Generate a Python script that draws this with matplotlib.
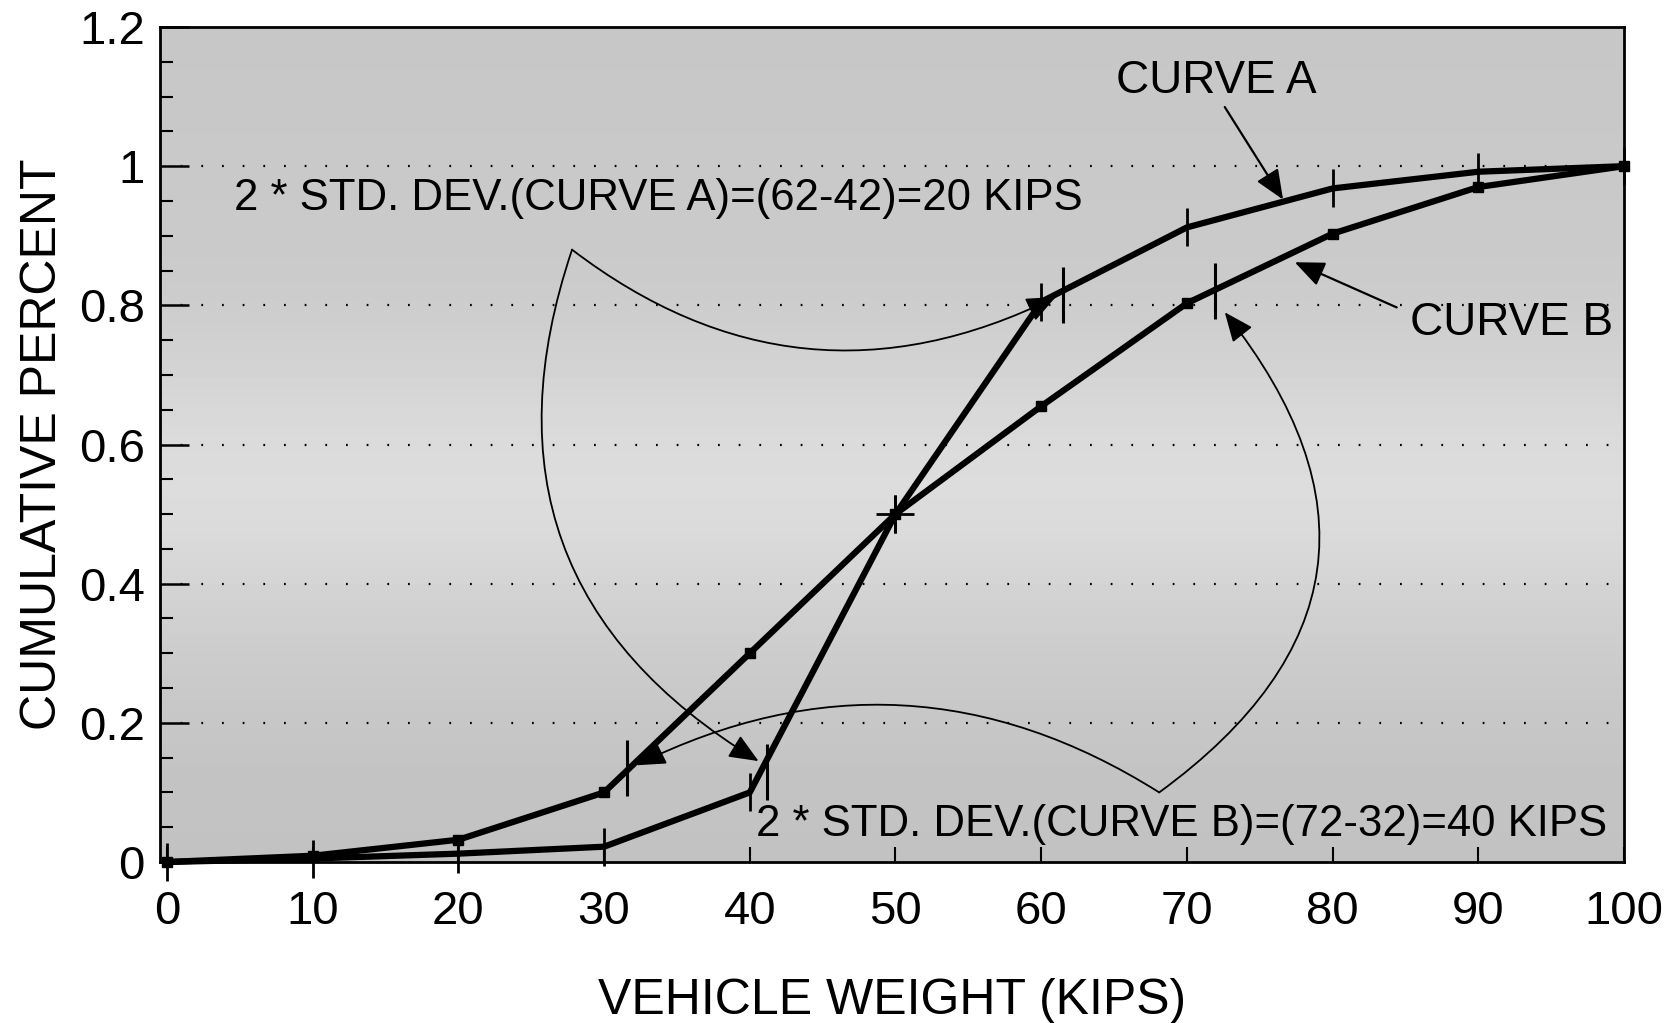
import numpy as np
import matplotlib
matplotlib.use("Agg")
import matplotlib.pyplot as plt
from matplotlib.patches import FancyArrowPatch

plt.rcParams['font.family'] = ['Liberation Sans', 'DejaVu Sans']

# ---- data ----
weight = [0, 10, 20, 30, 40, 50, 60, 70, 80, 90, 100]
curve_a = [0.0, 0.005, 0.012, 0.022, 0.10, 0.50, 0.805, 0.912, 0.968, 0.992, 1.0]
curve_b = [0.0, 0.009, 0.032, 0.10, 0.30, 0.50, 0.655, 0.803, 0.903, 0.970, 1.0]
std_a_x = [41.2, 61.5]
std_a_y = [0.13, 0.815]
std_b_x = [31.6, 71.9]
std_b_y = [0.135, 0.82]
median_pt = (50, 0.5)
x_ticks = [0, 10, 20, 30, 40, 50, 60, 70, 80, 90, 100]
y_ticks = [0, 0.2, 0.4, 0.6, 0.8, 1.0, 1.2]
y_ticklabels = ["0", "0.2", "0.4", "0.6", "0.8", "1", "1.2"]
grid_levels = [0.2, 0.4, 0.6, 0.8, 1.0]

# annotation arcs (start, end, rad)
arcs = [
    ((27.8, 0.88), (61.0, 0.812), 0.31),
    ((27.8, 0.88), (40.6, 0.145), 0.40),
    ((68.1, 0.10), (72.6, 0.79), 0.52),
    ((68.1, 0.10), (32.2, 0.139), 0.28),
]
label_a_xy = (72.0, 1.123)
label_b_xy = (92.3, 0.774)
arrow_a = ((72.6, 1.085), (76.6, 0.952))
arrow_b = ((84.4, 0.797), (77.4, 0.862))
txt_a = "2 * STD. DEV.(CURVE A)=(62-42)=20 KIPS"
txt_b = "2 * STD. DEV.(CURVE B)=(72-32)=40 KIPS"
txt_a_xy = (4.6, 0.953)
txt_b_xy = (40.4, 0.054)

# ---- figure ----
W, H = 1672, 1023
fig = plt.figure(figsize=(W / 100, H / 100), dpi=100)
fig.patch.set_facecolor('white')
ax = fig.add_axes([160 / W, 1 - 862 / H, (1624 - 160) / W, (862 - 27) / H])
ax.set_xlim(-0.48, 100)
ax.set_ylim(0, 1.2)

# stippled-looking gray background (soft vertical shading)
shade = np.array([[0.76], [0.78], [0.82], [0.88], [0.84], [0.79], [0.79], [0.78]])
ax.imshow(shade, extent=[-0.48, 100, 0, 1.2], aspect='auto', cmap='gray',
          vmin=0, vmax=1, origin='lower', interpolation='bicubic', zorder=0)

for g in grid_levels:
    ax.axhline(g, color='black', lw=1.6, linestyle=(0, (0.8, 8.5)), zorder=1)

# curves
ax.plot(weight, curve_a, color='black', lw=4.5, marker='|', ms=28, mew=2.0,
        zorder=4, clip_on=False)
ax.plot(weight, curve_b, color='black', lw=4.5, marker='s', ms=6.5, zorder=4,
        clip_on=False)
ax.plot(std_a_x, std_a_y, linestyle='none', marker='|', ms=40, mew=2.2,
        color='black', zorder=5)
ax.plot(std_b_x, std_b_y, linestyle='none', marker='|', ms=40, mew=2.2,
        color='black', zorder=5)
ax.plot([median_pt[0]], [median_pt[1]], linestyle='none', marker='+', ms=28,
        mew=2.0, color='black', zorder=5)

# arcs with arrowheads
for (p0, p1, rad) in arcs:
    ar = FancyArrowPatch(p0, p1, connectionstyle=f"arc3,rad={rad}",
                         arrowstyle="-|>,head_length=1.3,head_width=0.55",
                         mutation_scale=14, lw=1.3, color='black',
                         shrinkA=0, shrinkB=0, zorder=6)
    ax.add_patch(ar)

for (p0, p1) in (arrow_a, arrow_b):
    ax.annotate("", xy=p1, xytext=p0,
                arrowprops=dict(arrowstyle="-|>,head_length=1.3,head_width=0.55",
                                mutation_scale=14, lw=1.6, color='black',
                                shrinkA=0, shrinkB=0), zorder=6)

ax.text(*label_a_xy, "CURVE A", fontsize=33, ha='center', va='center', zorder=7)
ax.text(*label_b_xy, "CURVE B", fontsize=33, ha='center', va='center', zorder=7)
ax.text(*txt_a_xy, txt_a, fontsize=31.5, ha='left', va='center', zorder=7)
ax.text(*txt_b_xy, txt_b, fontsize=31.5, ha='left', va='center', zorder=7)

# axes styling
for s in ax.spines.values():
    s.set_linewidth(2.0)
    s.set_zorder(8)
ax.set_xticks(x_ticks)
ax.set_xticklabels([str(v) for v in x_ticks])
ax.set_yticks(y_ticks)
ax.set_yticklabels(y_ticklabels)
ax.set_yticks(np.arange(0, 1.2001, 0.05), minor=True)
ax.tick_params(axis='x', which='major', direction='in', length=11, width=1.5,
               labelsize=34, pad=20)
ax.tick_params(axis='y', which='major', direction='in', length=21, width=1.8,
               labelsize=34, pad=11)
ax.tick_params(axis='y', which='minor', direction='in', length=9, width=1.5)

ax.set_xlabel("VEHICLE WEIGHT (KIPS)", fontsize=36, labelpad=32)
ax.set_ylabel("CUMULATIVE PERCENT", fontsize=36, labelpad=9)

fig.savefig("out.png", dpi=100)
